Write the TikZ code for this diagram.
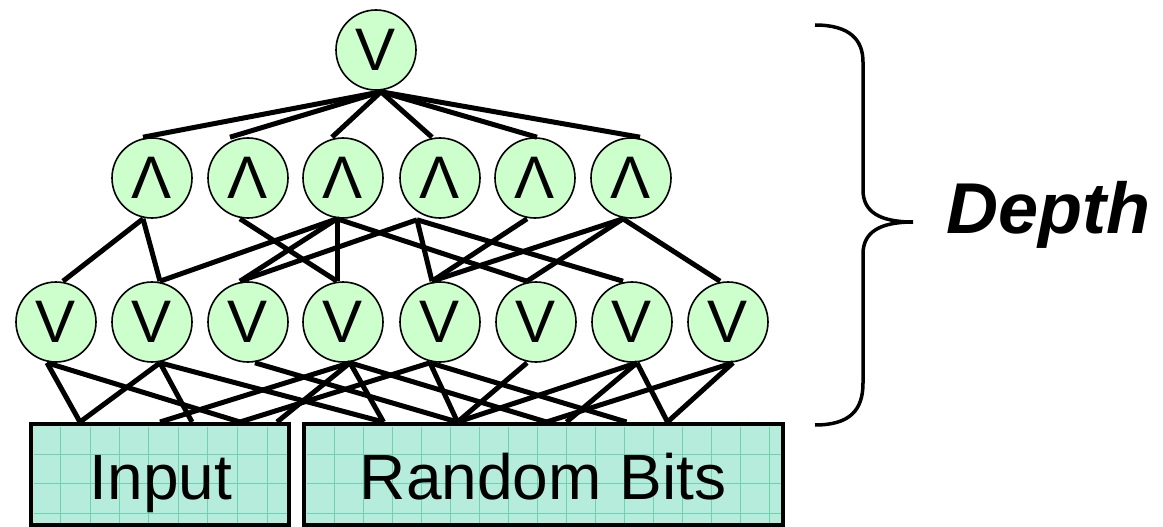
\documentclass[tikz,border=0pt]{standalone}
\usepackage{fontspec}
\setmainfont{Liberation Sans}
\definecolor{gatefill}{RGB}{204,255,204}
\definecolor{boxfill}{RGB}{182,236,220}
\definecolor{gridcol}{RGB}{110,210,175}
\begin{document}
\begin{tikzpicture}[x=1pt,y=-1pt,
  gate/.style={circle,draw=black,line width=1.6pt,fill=gatefill,minimum size=80pt,inner sep=0pt,font=\fontsize{60}{60}\selectfont},
  wire/.style={line width=5pt},
  bitbox/.style={draw=black,line width=4pt,fill=boxfill,inner sep=0pt},
  boxlabel/.style={font=\fontsize{64}{64}\selectfont,inner sep=0pt,anchor=base},
  gridline/.style={draw=gridcol,line width=0.8pt},
  brace/.style={line width=3.5pt}]
\useasboundingbox (0,0) rectangle (1163,527);

% boxes
\node[bitbox,minimum width=258pt,minimum height=101pt] (input) at (160,474.5) {};
\node[bitbox,minimum width=479pt,minimum height=101pt] (rbits) at (543.5,474.5) {};
\foreach \gx in {60,90,119,148,178,207,237,267} \draw[gridline] (\gx,426.5) -- (\gx,522.5);
\foreach \gy in {454,483,513} \draw[gridline] (33.5,\gy) -- (286.5,\gy);
\foreach \gx in {334.5,363.5,...,770} \draw[gridline] (\gx,426.5) -- (\gx,522.5);
\foreach \gy in {454,483,513} \draw[gridline] (306.5,\gy) -- (780.5,\gy);
\node[boxlabel] (inputlbl) at (161,499) {Input};
\node[boxlabel] (rbitslbl) at (543,499) {Random Bits};

% gates
\node[gate] (top) at (376,50) {V};
\foreach \i/\x in {1/152,2/248,3/343,4/440,5/535,6/631}
  \node[gate] (and\i) at (\x,178) {Λ};
\foreach \i/\x in {1/56,2/152,3/248,4/343,5/440,6/536,7/632,8/728}
  \node[gate] (or\i) at (\x,322) {V};

% top wires
\coordinate (t0) at ([xshift=5pt,yshift=-1pt]top.south);
\draw[wire] (t0) -- ([xshift=-9pt]and1.north);
\draw[wire] (t0) -- ([xshift=-18pt]and2.north);
\draw[wire] (t0) -- ([xshift=-11pt]and3.north);
\draw[wire] (t0) -- ([xshift=-8pt]and4.north);
\draw[wire] (t0) -- ([xshift=2pt]and5.north);
\draw[wire] (t0) -- ([xshift=9pt]and6.north);

% AND bottoms
\coordinate (a1) at ([xshift=-9pt]and1.south);
\coordinate (a2) at ([xshift=-8pt]and2.south);
\coordinate (a3) at ([xshift=-6pt]and3.south);
\coordinate (a4) at ([xshift=-23pt,yshift=-1pt]and4.south);
\coordinate (a5) at ([xshift=-8pt]and5.south);
\coordinate (a6) at ([xshift=-8pt]and6.south);
% OR tops
\coordinate (o1) at ([xshift=7pt]or1.north);
\coordinate (o2) at ([xshift=8pt]or2.north);
\coordinate (o3) at ([xshift=-8pt]or3.north);
\coordinate (o4) at ([xshift=-6pt]or4.north);
\coordinate (o5) at ([xshift=-8pt]or5.north);
\coordinate (o6) at ([xshift=-9pt]or6.north);
\coordinate (o7) at ([xshift=-9pt]or7.north);
\coordinate (o8) at ([xshift=-8pt]or8.north);

\foreach \a/\o in {a1/o1,a1/o2,a2/o4,a3/o2,a3/o3,a3/o4,a3/o6,a4/o3,a4/o5,a4/o7,a5/o5,a6/o5,a6/o6,a6/o8}
  \draw[wire] (\a) -- (\o);

% OR bottoms
\coordinate (b1) at ([xshift=-9pt]or1.south);
\coordinate (b2) at ([xshift=8pt]or2.south);
\coordinate (b3) at ([xshift=7pt]or3.south);
\coordinate (b4) at ([xshift=7pt]or4.south);
\coordinate (b5) at ([xshift=-10pt]or5.south);
\coordinate (b6) at ([xshift=-9pt]or6.south);
\coordinate (b7) at ([xshift=5pt]or7.south);
\coordinate (b8) at ([xshift=5pt]or8.south);
% box top endpoints
\coordinate (i1) at ([xshift=-80pt]input.north);
\coordinate (i2) at ([xshift=0pt]input.north);
\coordinate (i3) at ([xshift=32pt]input.north);
\coordinate (i4) at ([xshift=80pt]input.north);
\coordinate (i5) at ([xshift=117pt]input.north);
\coordinate (r1) at ([xshift=-160pt]rbits.north);
\coordinate (r2) at ([xshift=-86pt]rbits.north);
\coordinate (r3) at ([xshift=3pt]rbits.north);
\coordinate (r4) at ([xshift=23pt]rbits.north);
\coordinate (r5) at ([xshift=83pt]rbits.north);
\coordinate (r6) at ([xshift=124pt]rbits.north);

\foreach \b/\t in {b1/i1,b1/i4,b2/i1,b2/i3,b2/r1,b3/r2,b4/i2,b4/i5,b4/r1,b4/r3,b5/i4,b5/r2,b5/r5,b6/r2,b7/r2,b7/r4,b7/r6,b8/r3,b8/r6}
  \draw[wire] (\b) -- (\t);

% brace
\draw[brace] (815,25) coordinate (bt) .. controls (850,25) and (863,40) .. (863,62) -- (863,190)
  .. controls (863,212) and (880,222) .. (913,222) coordinate (btip)
  .. controls (880,222) and (863,232) .. (863,254) -- (863,383)
  .. controls (863,410) and (850,425) .. (815,425) coordinate (bb);
\node[font=\fontsize{72}{72}\selectfont\bfseries\itshape,inner sep=0pt,anchor=base west] (depth) at (946,233) {Depth};
\end{tikzpicture}
\end{document}
